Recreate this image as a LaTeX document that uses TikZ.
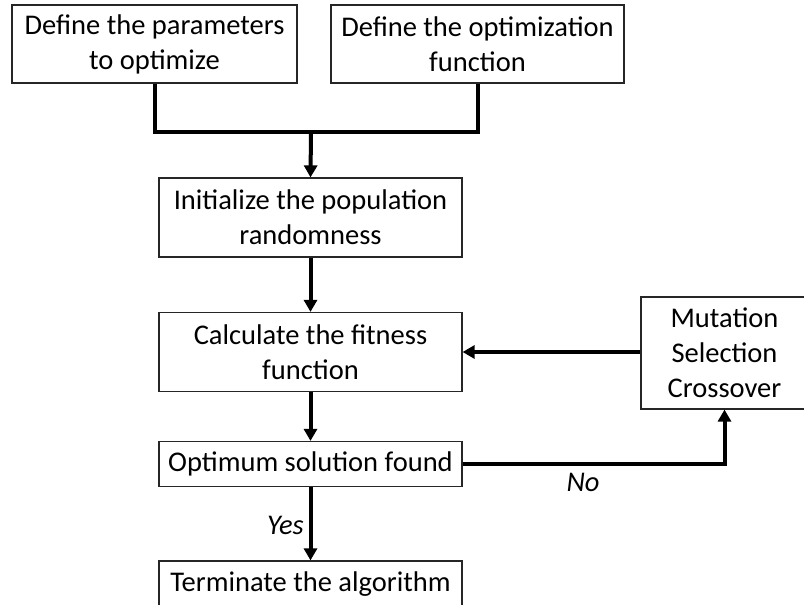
\documentclass[tikz,border=0pt]{standalone}
\usepackage{fontspec}
\setmainfont{Carlito}
\usetikzlibrary{arrows.meta}
\begin{document}
\begin{tikzpicture}[x=1pt,y=-1pt,
  box/.style={draw=black!85, line width=1.2pt, rectangle, align=center, inner sep=0pt, font=\fontsize{28.5}{35}\selectfont},
  conn/.style={line width=4pt, line join=miter},
  arr/.style={conn, -{Triangle[width=13pt,length=12pt]}},
  lbl/.style={font=\fontsize{28.5}{35}\selectfont\itshape, inner sep=0pt}]
\useasboundingbox (0,0) rectangle (804,605);
\clip (0,0) rectangle (804,605);
\node[box, minimum width=285pt, minimum height=78pt] (b1) at (154.5,44) {Define the parameters\\to optimize};
\node[box, minimum width=293pt, minimum height=78pt] (b2) at (477.5,44) {Define the optimization\\function};
\node[box, minimum width=303pt, minimum height=79pt] (b3) at (310.5,217.5) {Initialize the population\\randomness};
\node[box, minimum width=303pt, minimum height=79pt] (b4) at (310.5,352) {Calculate the fitness\\function};
\node[box, minimum width=167pt, minimum height=112pt] (b5) at (724.5,353) {Mutation\\Selection\\Crossover};
\node[box, minimum width=303pt, minimum height=45pt] (opt) at (310.5,464) {Optimum solution found};
\node[box, minimum width=303pt, minimum height=46pt] (term) at (310.5,584) {Terminate the algorithm};
\coordinate (j) at (311,132);
\draw[conn] (b1.south) |- (j) -| (b2.south);
\draw[arr] (j) -- (b3.north);
\draw[arr] (b3) -- (b4);
\draw[arr] (b4) -- (opt);
\draw[arr] (b5.west |- b4.east) -- (b4.east);
\draw[arr] (opt.east) -| (b5.south);
\draw[arr] (opt) -- (term);
\node[lbl] (no) at (583,482) {No};
\node[lbl, anchor=east] (yes) at (304,525) {Yes};
\end{tikzpicture}
\end{document}
